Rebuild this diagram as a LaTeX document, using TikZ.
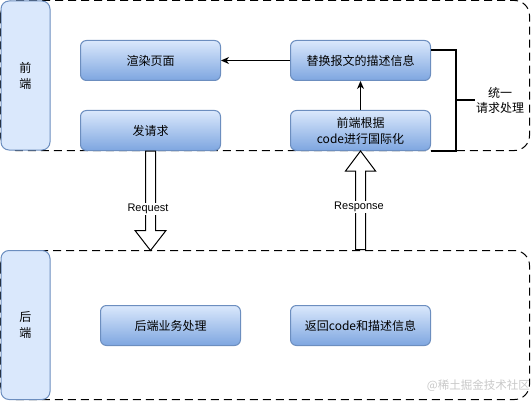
\documentclass[tikz,border=0pt]{standalone}
\usepackage{fontspec}
\setmainfont{Liberation Sans}
\newfontfamily\cjk{Noto Sans CJK SC}
\usetikzlibrary{arrows.meta}
\definecolor{bfill}{HTML}{DAE8FC}
\definecolor{bdark}{HTML}{7EA6E0}
\definecolor{bstroke}{HTML}{6C8EBF}
\definecolor{wmgray}{HTML}{C8C8C8}
\begin{document}
\begin{tikzpicture}[x=1pt,y=-1pt,
  box/.style={draw=bstroke, line width=1pt, rounded corners=6pt, top color=bfill, bottom color=bdark,
    minimum width=140pt, minimum height=40pt, inner sep=0pt, align=center,
    font=\cjk\fontsize{12}{16}\selectfont},
  lane/.style={draw=bstroke, line width=1pt, fill=bfill, rounded corners=8pt,
    minimum width=49pt, minimum height=149pt, inner sep=0pt, align=center,
    font=\cjk\fontsize{12}{16}\selectfont},
  zone/.style={draw=black, line width=1pt, dash pattern=on 8pt off 5pt, rounded corners=15pt},
  conn/.style={draw=black, line width=1pt, -{Stealth[length=8pt,width=7pt,inset=2.5pt]}},
  hollow/.style={draw=black, line width=1pt, fill=white},
  bracket/.style={draw=black, line width=2pt},
  lbl/.style={fill=white, inner sep=1pt, font=\fontsize{11}{13}\selectfont},
  note/.style={inner sep=1pt, align=center, font=\cjk\fontsize{12}{15}\selectfont},
  wm/.style={text=wmgray, inner sep=0pt, font=\cjk\fontsize{11.5}{13}\selectfont}
]
\useasboundingbox (0,0) rectangle (532,401);
% zones
\draw[zone] (0.5,0.5) rectangle (529.5,150.5);
\draw[zone] (0.5,250.5) rectangle (529.5,399.5);
% lanes
\node[lane] (fe) at (25.5,75.5) {前\\端};
\node[lane] (be) at (25.5,325) {后\\端};
% named free ends
\coordinate (rqtip) at (150.5,250.5);
\coordinate (rsbase) at (360.5,249.5);
% boxes
\node[box] (render) at (150.5,60.5) {渲染页面};
\node[box] (send) at (150.5,130.5) {发请求};
\node[box] (repl) at (360.5,60.5) {替换报文的描述信息};
\node[box] (i18n) at (360.5,130.5) {前端根据\\code进行国际化};
\node[box] (biz) at (170.5,325.5) {后端业务处理};
\node[box] (ret) at (360.5,325.5) {返回code和描述信息};
% connectors
\draw[conn] (repl.west) -- (render.east);
\draw[conn] (i18n.north) -- (repl.south);
% hollow arrows
\draw[hollow] ([xshift=-5pt]send.south) -- ([xshift=-5pt,yshift=20pt]rqtip)
  -- ([xshift=-15.5pt,yshift=20pt]rqtip) -- (rqtip) -- ([xshift=15.5pt,yshift=20pt]rqtip)
  -- ([xshift=5pt,yshift=20pt]rqtip) -- ([xshift=5pt]send.south) -- cycle;
\draw[hollow] ([xshift=-5pt]rsbase) -- ([xshift=-5pt,yshift=-20pt]i18n.south)
  -- ([xshift=-15pt,yshift=-20pt]i18n.south) -- (i18n.south) -- ([xshift=15pt,yshift=-20pt]i18n.south)
  -- ([xshift=5pt,yshift=-20pt]i18n.south) -- ([xshift=5pt]rsbase) -- cycle;
\node[lbl] (rql) at (148,209) {Request};
\node[lbl] (rsl) at (359,207) {Response};
% bracket
\node[note] (unify) at (500,100) {统一\\请求处理};
\draw[bracket] ([yshift=10pt]repl.east) -- ([xshift=25pt,yshift=10pt]repl.east) |- (i18n.south east);
\coordinate (bmid) at (455.5,100);
\draw[bracket] (bmid) -- (unify.west);
% watermark
\node[wm, anchor=east] (mark) at (530,386) {@稀土掘金技术社区};
\end{tikzpicture}
\end{document}
